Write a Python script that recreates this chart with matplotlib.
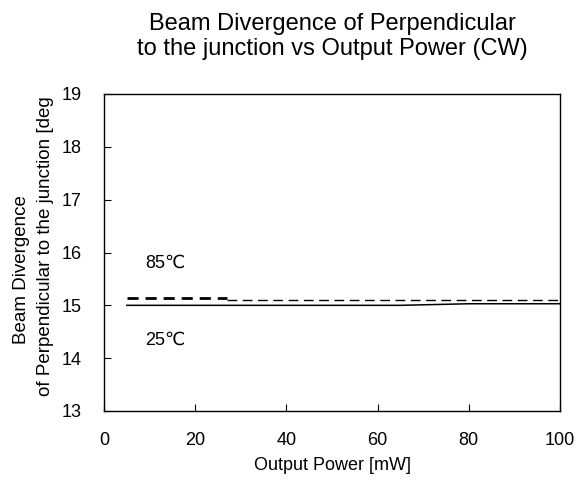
import matplotlib
matplotlib.use("Agg")
import matplotlib.pyplot as plt

plt.rcParams['font.family'] = ['Liberation Sans', 'DejaVu Sans']

# 85°C series (first segment drawn heavier in the reference)
p85_a = [5, 27]
d85_a = [15.13, 15.13]
p85_b = [27, 100]
d85_b = [15.11, 15.11]
# 25°C series
p25 = [5, 65, 80, 100]
d25 = [15.0, 15.0, 15.03, 15.03]

xticks = [0, 20, 40, 60, 80, 100]
yticks = [13, 14, 15, 16, 17, 18, 19]

W, H = 585, 486
fig = plt.figure(figsize=(W/100, H/100), dpi=100)
ax = fig.add_axes([104/W, 1-411/H, (560-104)/W, (411-94)/H])

ax.plot(p85_a, d85_a, color='black', lw=2.0, ls=(0, (4, 2.5)))
ax.plot(p85_b, d85_b, color='black', lw=1.0, ls=(0, (7, 4)))
ax.plot(p25, d25, color='black', lw=1.1)

ax.text(9, 15.79, '85℃', fontsize=13, va='center', ha='left',
        family=['Liberation Sans', 'DejaVu Sans'])
ax.text(9, 14.33, '25℃', fontsize=13, va='center', ha='left',
        family=['Liberation Sans', 'DejaVu Sans'])

ax.set_xlim(0, 100)
ax.set_ylim(13, 19)
ax.set_xticks(xticks)
ax.set_yticks(yticks)
ax.tick_params(direction='in', length=5, labelsize=13, width=0.8)
ax.tick_params(axis='x', pad=15)
ax.tick_params(axis='y', pad=16)
for s in ax.spines.values():
    s.set_linewidth(1.0)

ax.set_xlabel('Output Power [mW]', fontsize=13, labelpad=6)
fig.text(22/W, 1-270/H, 'Beam Divergence', rotation=90, fontsize=13.5,
         ha='center', va='center')
fig.text(46/W, 1-246/H, 'of Perpendicular to the junction [deg', rotation=90,
         fontsize=13.5, ha='center', va='center')
fig.suptitle('Beam Divergence of Perpendicular\nto the junction vs Output Power (CW)',
             fontsize=17, x=(104+560)/2/W, y=1-13/H, va='top', linespacing=1.2)

fig.savefig('out.png', dpi=100)
